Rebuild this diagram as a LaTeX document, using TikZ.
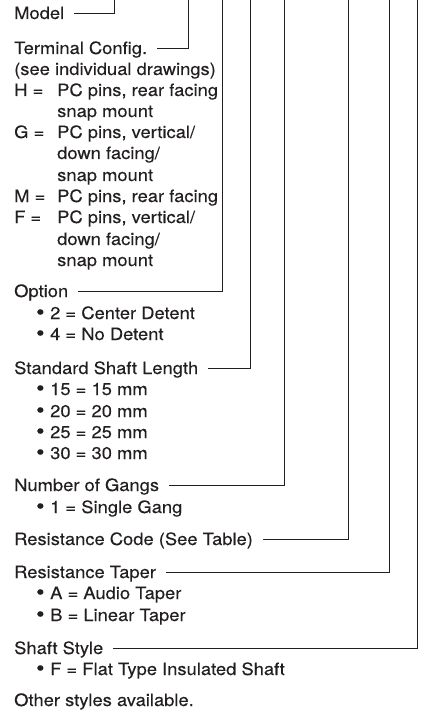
\documentclass[tikz,border=0pt]{standalone}
\usepackage{fontspec}
\setmainfont[FakeStretch=1.08,FakeBold=0.2]{TeX Gyre Heros}
\definecolor{ink}{HTML}{231F20}
\newcommand\bul{\makebox[14pt][l]{\fontsize{22}{22}\selectfont\raisebox{-0.6pt}{•}}}
\begin{document}
\begin{tikzpicture}[x=1pt,y=-1pt,
  lbl/.style={anchor=base west, inner sep=0pt, font=\fontsize{17}{21}\selectfont, text=ink},
  lead/.style={draw=ink, line width=0.9pt},
  gap/.style={shift={(10pt,6pt)}}
]
\useasboundingbox (0,0) rectangle (428,714);

% top ends of the leaders
\coordinate (tModel) at (114,0);
\coordinate (tTerm)  at (188,0);
\coordinate (tOpt)   at (222,0);
\coordinate (tLen)   at (250,0);
\coordinate (tGang)  at (284,0);
\coordinate (tRes)   at (348,0);
\coordinate (tTaper) at (389,0);
\coordinate (tShaft) at (417,0);

\node[lbl] (model) at (14,19) {Model};

\node[lbl] (term) at (14,54) {Terminal Config.};
\node[lbl] (see)  at (14,75) {(see individual drawings)};
\node[lbl] (hk)   at (14,96) {H =};
\node[lbl] (hv)   at (57,96) {PC pins, rear facing};
\node[lbl] (hv2)  at (57,117) {snap mount};
\node[lbl] (gk)   at (14,138) {G =};
\node[lbl] (gv)   at (57,138) {PC pins, vertical/};
\node[lbl] (gv2)  at (57,159) {down facing/};
\node[lbl] (gv3)  at (57,181) {snap mount};
\node[lbl] (mk)   at (14,202) {M =};
\node[lbl] (mv)   at (57,202) {PC pins, rear facing};
\node[lbl] (fk)   at (14,223) {F =};
\node[lbl] (fv)   at (57,223) {PC pins, vertical/};
\node[lbl] (fv2)  at (57,245) {down facing/};
\node[lbl] (fv3)  at (57,266) {snap mount};

\node[lbl] (opt)  at (14,297) {Option};
\node[lbl] (o2)   at (36,319) {\bul 2 = Center Detent};
\node[lbl] (o4)   at (36,340) {\bul 4 = No Detent};

\node[lbl] (len)  at (14,374) {Standard Shaft Length};
\node[lbl] (l15)  at (36,395) {\bul 15 = 15 mm};
\node[lbl] (l20)  at (36,417) {\bul 20 = 20 mm};
\node[lbl] (l25)  at (36,438) {\bul 25 = 25 mm};
\node[lbl] (l30)  at (36,459) {\bul 30 = 30 mm};

\node[lbl] (gang) at (14,491) {Number of Gangs};
\node[lbl] (g1)   at (36,513) {\bul 1 = Single Gang};

\node[lbl] (res)  at (14,545) {Resistance Code (See Table)};

\node[lbl] (taper) at (14,578) {Resistance Taper};
\node[lbl] (ta)    at (36,599) {\bul A = Audio Taper};
\node[lbl] (tb)    at (36,621) {\bul B = Linear Taper};

\node[lbl] (shaft) at (14,654) {Shaft Style};
\node[lbl] (sf)    at (36,675) {\bul F = Flat Type Insulated Shaft};

\node[lbl] (other) at (14,706) {Other styles available.};

\draw[lead] ([gap]model.base east) -| (tModel);
\draw[lead] ([gap]term.base east)  -| (tTerm);
\draw[lead] ([gap]opt.base east)   -| (tOpt);
\draw[lead] ([gap]len.base east)   -| (tLen);
\draw[lead] ([gap]gang.base east)  -| (tGang);
\draw[lead] ([gap]res.base east)   -| (tRes);
\draw[lead] ([gap]taper.base east) -| (tTaper);
\draw[lead] ([gap]shaft.base east) -| (tShaft);
\end{tikzpicture}
\end{document}
